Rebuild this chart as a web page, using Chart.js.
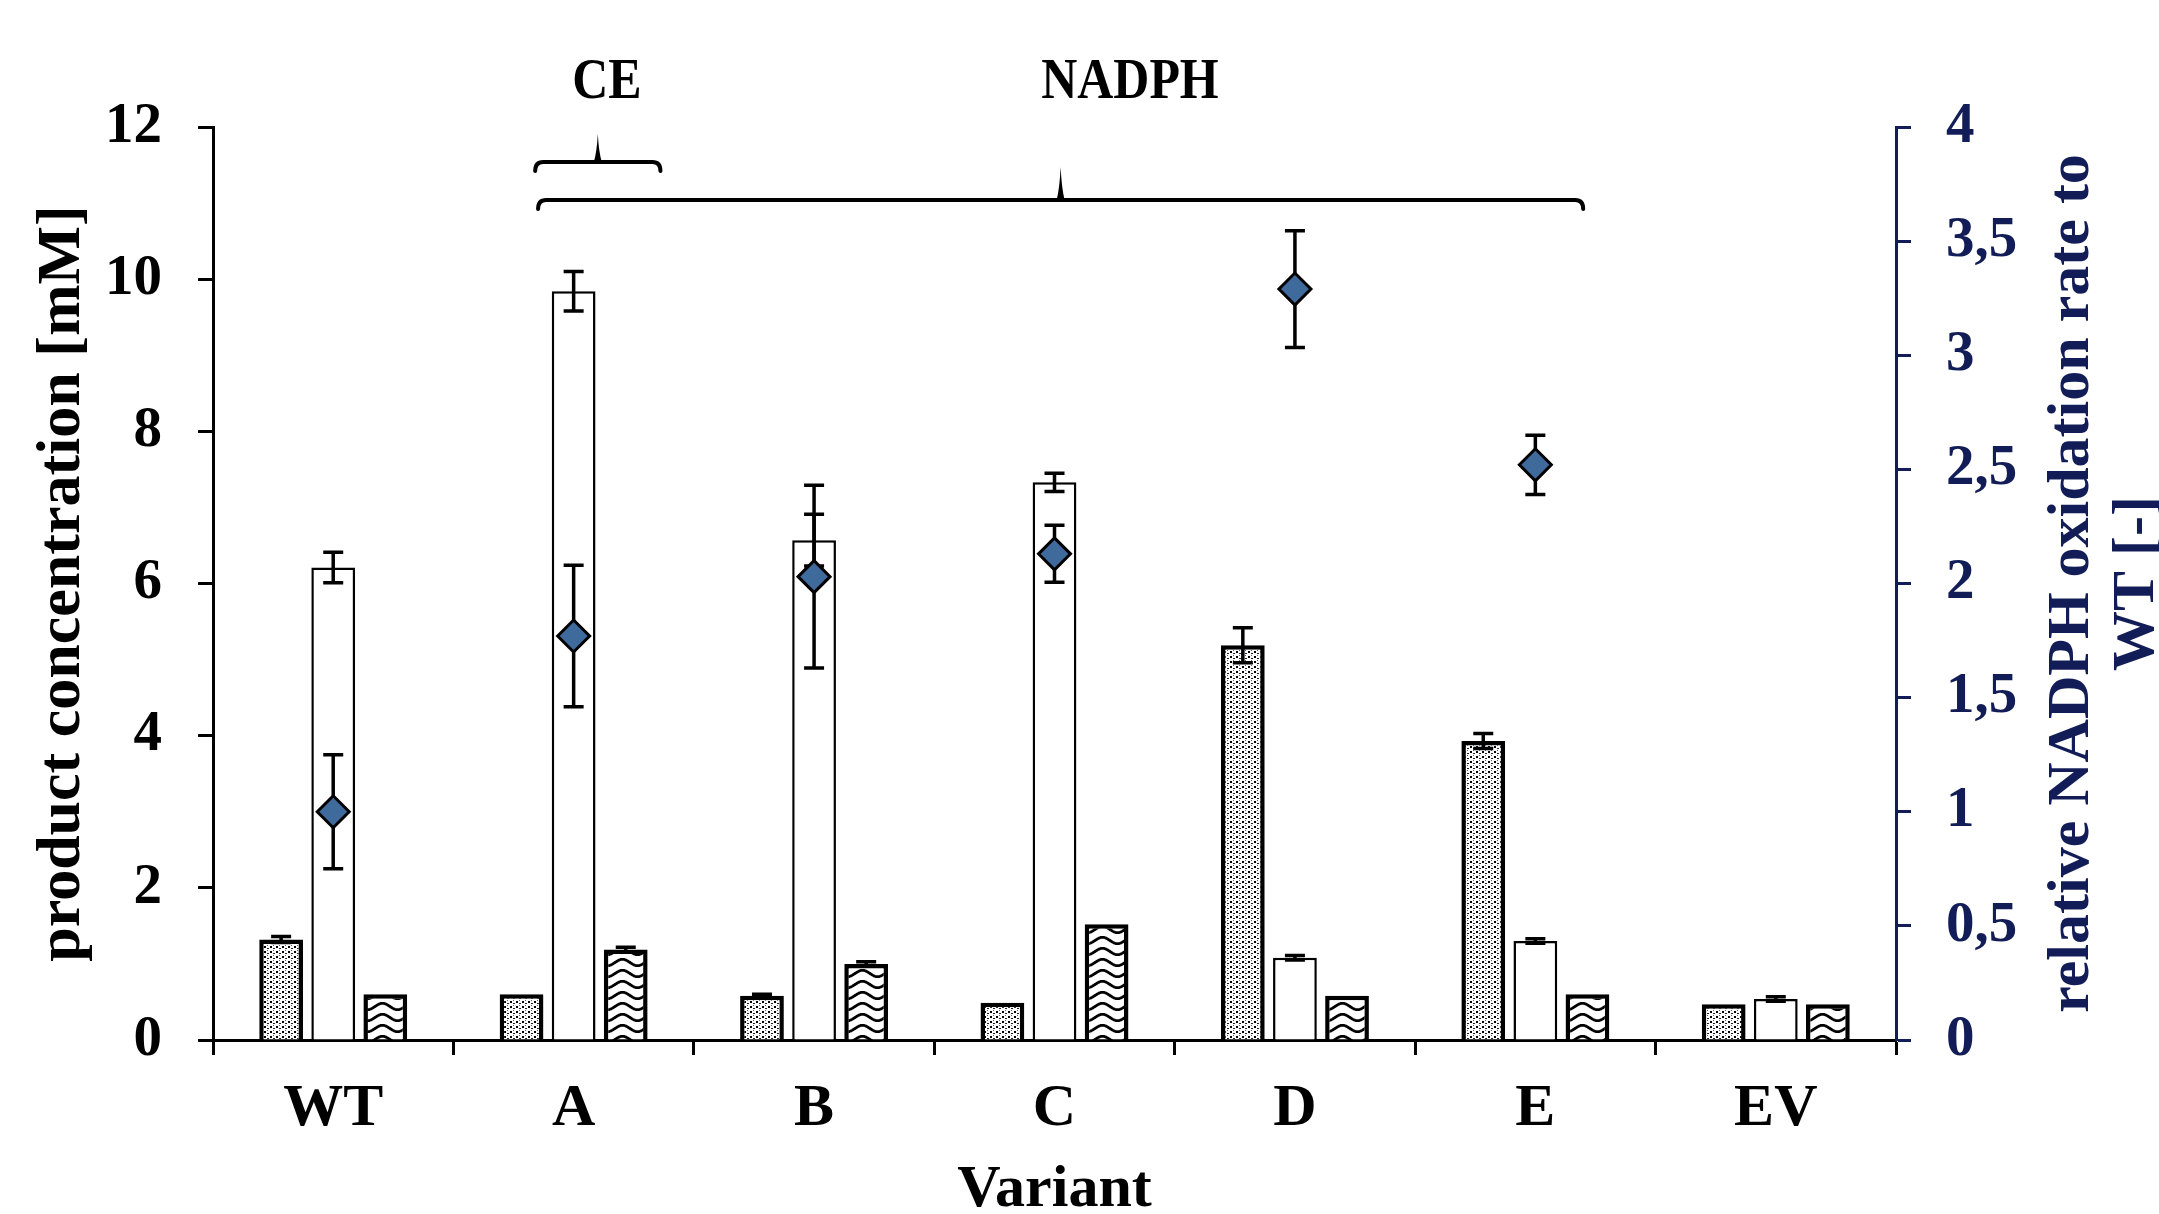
<!DOCTYPE html>
<html><head><meta charset="utf-8">
<script src="https://cdn.jsdelivr.net/npm/chart.js@4.4.1/dist/chart.umd.min.js"></script>
<style>html,body{margin:0;padding:0;background:#fff;overflow:hidden}#wrap{width:2159px;height:1214px;position:relative}</style>
</head><body><div id="wrap"><canvas id="c"></canvas></div>
<script>
// ---- data ----
const categories = ['WT', 'A', 'B', 'C', 'D', 'E', 'EV'];
const dottedValues = [1.32, 0.60, 0.58, 0.49, 5.19, 3.93, 0.47];
const dottedErrors = [0.04, 0, 0.02, 0, 0.23, 0.10, 0];
const whiteValues  = [6.21, 9.84, 6.57, 7.33, 1.08, 1.30, 0.54];
const whiteErrors  = [0.20, 0.26, 0.34, 0.12, 0.03, 0.03, 0.03];
const wavyValues   = [0.60, 1.19, 1.00, 1.52, 0.58, 0.60, 0.47];
const wavyErrors   = [0, 0.03, 0.03, 0, 0, 0, 0];
const nadphRate       = [1.00, 1.77, 2.03, 2.13, 3.29, 2.52, null];
const nadphRateErrors = [0.25, 0.31, 0.40, 0.125, 0.256, 0.13, 0];
const leftTickLabels  = ['0', '2', '4', '6', '8', '10', '12'];
const rightTickLabels = ['0', '0,5', '1', '1,5', '2', '2,5', '3', '3,5', '4'];

// ---- styling ----
const FONT = "'Liberation Serif', 'Times New Roman', serif";
const NAVY = '#121c56';

function dotPattern() {
  const c = document.createElement('canvas'); c.width = 6; c.height = 5;
  const g = c.getContext('2d');
  g.fillStyle = '#fff'; g.fillRect(0, 0, 6, 5);
  g.fillStyle = '#000'; g.fillRect(0, 1, 2, 2);
  g.fillStyle = '#222'; g.fillRect(3, 3, 2, 1);
  g.fillStyle = '#56627f'; g.fillRect(3, 0, 1, 1);
  return g.createPattern(c, 'repeat');
}
function wavePattern() {
  const c = document.createElement('canvas'); c.width = 30; c.height = 11;
  const g = c.getContext('2d');
  g.fillStyle = '#fff'; g.fillRect(0, 0, 30, 11);
  g.strokeStyle = '#000'; g.lineWidth = 2.8;
  g.beginPath();
  for (let x = -1; x <= 31; x++) {
    const y = 5.5 + 3.2 * Math.sin(2 * Math.PI * x / 30);
    if (x === -1) g.moveTo(x, y); else g.lineTo(x, y);
  }
  g.stroke();
  return g.createPattern(c, 'repeat');
}

function drawErrors(chart, idx) {
  const ds = chart.data.datasets[idx];
  const meta = chart.getDatasetMeta(idx);
  if (!ds.errors || meta.hidden) return;
  const ys = chart.scales[meta.yAxisID];
  const ctx = chart.ctx;
  ctx.save();
  ctx.strokeStyle = '#000'; ctx.lineWidth = 3.5;
  meta.data.forEach((el, i) => {
    const v = ds.data[i], e = ds.errors[i];
    if (v == null || !e) return;
    const x = el.x;
    const yT = ys.getPixelForValue(v + e), yB = ys.getPixelForValue(v - e);
    const hw = 10;
    ctx.beginPath();
    ctx.moveTo(x, yT); ctx.lineTo(x, yB);
    ctx.moveTo(x - hw, yT); ctx.lineTo(x + hw, yT);
    ctx.moveTo(x - hw, yB); ctx.lineTo(x + hw, yB);
    ctx.stroke();
  });
  ctx.restore();
}

const errorBarPlugin = {
  id: 'errorBars',
  beforeDatasetDraw(chart, args) {
    if (chart.data.datasets[args.index].type === 'line') drawErrors(chart, args.index);
  },
  afterDatasetDraw(chart, args) {
    if (chart.data.datasets[args.index].type !== 'line') drawErrors(chart, args.index);
  }
};

// brace annotations: positions in category units
const braceDefs = [
  { label: 'CE', from: 0.84, to: 1.361, dy: 35, peak: 28, textAt: 1.138 },
  { label: 'NADPH', from: 0.852, to: 5.199, dy: 73, peak: 33, textAt: 3.314 }
];

function catPx(xs, v) {
  const w = xs.width / categories.length;
  return xs.left + w * (v + 0.5);
}

const annotationPlugin = {
  id: 'annotations',
  afterDraw(chart) {
    const ctx = chart.ctx;
    const xs = chart.scales.x;
    const top = chart.chartArea.top;
    ctx.save();
    ctx.fillStyle = '#000'; ctx.strokeStyle = '#000';
    braceDefs.forEach(b => {
      const x0 = catPx(xs, b.from), x1 = catPx(xs, b.to), y = top + b.dy;
      const xm = (x0 + x1) / 2;
      ctx.lineWidth = 4; ctx.lineCap = 'round'; ctx.lineJoin = 'round';
      ctx.beginPath();
      ctx.moveTo(x0, y + 9);
      ctx.quadraticCurveTo(x0, y, x0 + 8, y);
      ctx.lineTo(x1 - 8, y);
      ctx.quadraticCurveTo(x1, y, x1, y + 9);
      ctx.stroke();
      ctx.beginPath();
      ctx.moveTo(xm - 4, y);
      ctx.quadraticCurveTo(xm - 1, y - b.peak * 0.35, xm, y - b.peak);
      ctx.quadraticCurveTo(xm + 1, y - b.peak * 0.35, xm + 4, y);
      ctx.closePath(); ctx.fill();
      ctx.save();
      ctx.translate(catPx(xs, b.textAt), top - 44);
      ctx.scale(0.86, 1);
      ctx.font = "bold 58px " + FONT;
      ctx.textAlign = 'center'; ctx.textBaseline = 'middle';
      ctx.fillText(b.label, 0, 0);
      ctx.restore();
    });
    // right axis title (reads bottom-to-top)
    const ys2 = chart.scales.y2;
    const cy = (chart.chartArea.top + chart.chartArea.bottom) / 2;
    ctx.save();
    ctx.translate(ys2.left + 176, cy);
    ctx.rotate(-Math.PI / 2);
    ctx.font = "bold 60px " + FONT;
    ctx.fillStyle = NAVY;
    ctx.textAlign = 'center'; ctx.textBaseline = 'middle';
    ctx.fillText('relative NADPH oxidation rate to', 0, 0);
    ctx.fillText('WT [-]', 0, 65);
    ctx.restore();
    ctx.restore();
  }
};

const dotFill = dotPattern();
const waveFill = wavePattern();

new Chart(document.getElementById('c'), {
  type: 'bar',
  data: {
    labels: categories,
    datasets: [
      {
        type: 'line', label: 'relative NADPH oxidation rate', data: nadphRate, errors: nadphRateErrors,
        yAxisID: 'y2', showLine: false, pointStyle: 'rectRot', pointRadius: 16, pointHoverRadius: 16,
        pointBackgroundColor: '#3f6a9c', pointBorderColor: '#000', pointBorderWidth: 3, order: 0
      },
      {
        label: 'product 1', data: dottedValues, errors: dottedErrors, yAxisID: 'y',
        backgroundColor: dotFill, borderColor: '#000', borderWidth: 4.5, order: 1,
        categoryPercentage: 0.65, barPercentage: 0.84
      },
      {
        label: 'product 2', data: whiteValues, errors: whiteErrors, yAxisID: 'y',
        backgroundColor: '#fff', borderColor: '#000', borderWidth: 2.5, order: 1,
        categoryPercentage: 0.65, barPercentage: 0.84
      },
      {
        label: 'product 3', data: wavyValues, errors: wavyErrors, yAxisID: 'y',
        backgroundColor: waveFill, borderColor: '#000', borderWidth: 4.5, order: 1,
        categoryPercentage: 0.65, barPercentage: 0.84
      }
    ]
  },
  options: {
    responsive: true, maintainAspectRatio: false, animation: false,
    layout: { padding: { top: 127, left: 0, right: 0, bottom: 0 } },
    plugins: { legend: { display: false }, tooltip: { enabled: false } },
    scales: {
      x: {
        type: 'category', offset: true,
        grid: { offset: true, drawOnChartArea: false, drawTicks: true, tickLength: 15, tickWidth: 3, tickColor: '#000' },
        border: { display: true, color: '#000', width: 3 },
        ticks: { font: { family: FONT, size: 60, weight: 'bold' }, color: '#000', padding: 18, maxRotation: 0, autoSkip: false },
        title: { display: true, text: 'Variant', font: { family: FONT, size: 60, weight: 'bold' }, color: '#000', padding: { top: 0, bottom: -12 } },
        afterFit(s) { s.height = 174; }
      },
      y: {
        position: 'left', min: 0, max: 12,
        ticks: { stepSize: 2, font: { family: FONT, size: 57, weight: 'bold' }, color: '#000', padding: 36,
                 callback: (v, i) => leftTickLabels[i] },
        grid: { drawOnChartArea: false, tickLength: 15, tickWidth: 3, tickColor: '#000' },
        border: { display: true, color: '#000', width: 3 },
        title: { display: true, text: 'product concentration [mM]', font: { family: FONT, size: 62, weight: 'bold' }, color: '#000', padding: { top: 26, bottom: 0 } },
        afterFit(s) { s.width = 213; }
      },
      y2: {
        position: 'right', min: 0, max: 4,
        ticks: { stepSize: 0.5, font: { family: FONT, size: 57, weight: 'bold' }, color: NAVY, padding: 35,
                 callback: (v, i) => rightTickLabels[i] },
        grid: { drawOnChartArea: false, tickLength: 15, tickWidth: 3, tickColor: NAVY },
        border: { display: true, color: NAVY, width: 3 },
        title: { display: false },
        afterFit(s) { s.width = 263; }
      }
    }
  },
  plugins: [errorBarPlugin, annotationPlugin]
});
</script>
</body></html>
